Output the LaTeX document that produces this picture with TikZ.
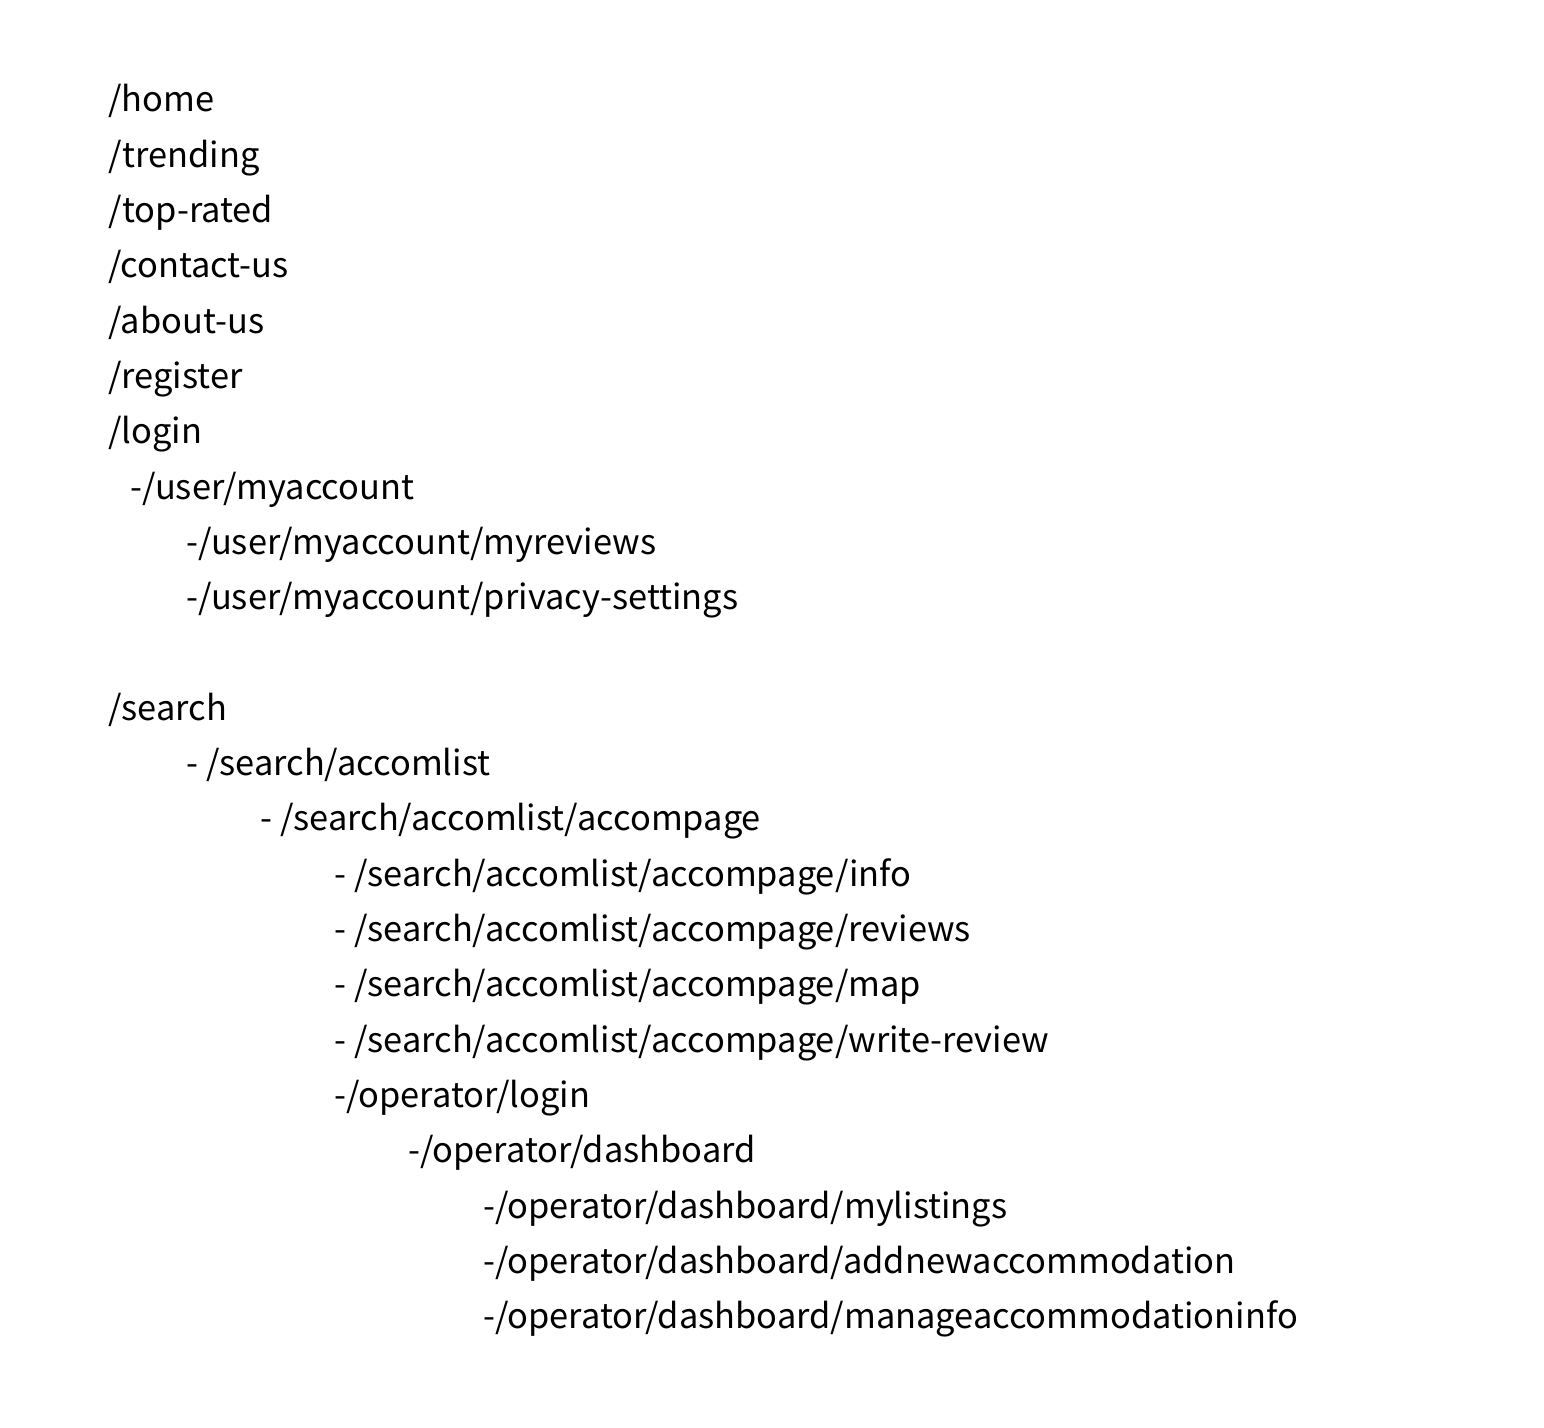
\documentclass[tikz,border=0pt]{standalone}
\usepackage{fontspec}
\setmainfont{Noto Sans CJK SC}
\begin{document}
\begin{tikzpicture}[x=0.5pt,y=-0.5pt,
    route/.style={anchor=base west,inner sep=0pt,font=\fontsize{17.2}{20}\selectfont}]
  \useasboundingbox (0,0) rectangle (1544,1428);
  \path
    (108,112.0) node[route] (home){/home}
    (108,167.3) node[route] (trending){/trending}
    (108,222.6) node[route] (toprated){/top-rated}
    (108,277.9) node[route] (contact){/contact-us}
    (108,333.2) node[route] (about){/about-us}
    (108,388.5) node[route] (register){/register}
    (108,443.8) node[route] (login){/login}
    (130,499.1) node[route] (myaccount){-/user/myaccount}
    (186,554.4) node[route] (myreviews){-/user/myaccount/myreviews}
    (186,609.7) node[route] (privacy){-/user/myaccount/privacy-settings}
    (108,720.3) node[route] (search){/search}
    (186,775.6) node[route] (accomlist){- /search/accomlist}
    (260,830.9) node[route] (accompage){- /search/accomlist/accompage}
    (334,886.2) node[route] (info){- /search/accomlist/accompage/info}
    (334,941.5) node[route] (reviews){- /search/accomlist/accompage/reviews}
    (334,996.8) node[route] (map){- /search/accomlist/accompage/map}
    (334,1052.1) node[route] (write){- /search/accomlist/accompage/write-review}
    (334,1107.4) node[route] (oplogin){-/operator/login}
    (408,1162.7) node[route] (dashboard){-/operator/dashboard}
    (483,1218.0) node[route] (mylistings){-/operator/dashboard/mylistings}
    (483,1273.3) node[route] (addnew){-/operator/dashboard/addnewaccommodation}
    (483,1328.6) node[route] (manage){-/operator/dashboard/manageaccommodationinfo};
\end{tikzpicture}
\end{document}
